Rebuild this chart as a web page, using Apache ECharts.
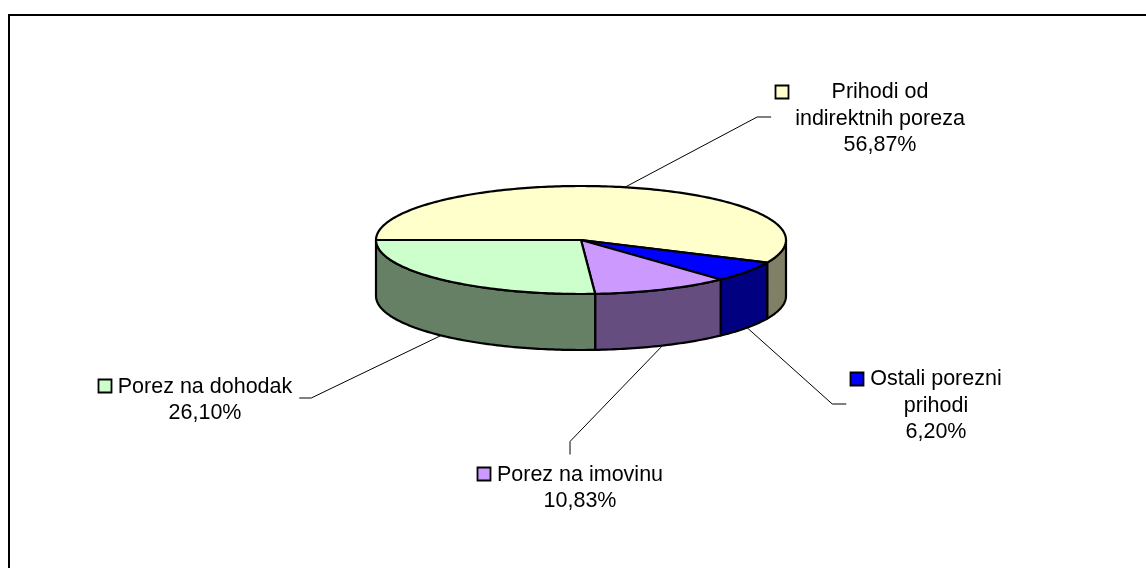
<!DOCTYPE html>
<html lang="hr">
<head>
<meta charset="UTF-8">
<title>Struktura poreznih prihoda</title>
<script src="https://cdn.jsdelivr.net/npm/echarts@6/dist/echarts.min.js"></script>
<style>
    html, body { margin: 0; padding: 0; background: #fff; }
    #main { width: 1146px; height: 568px; }
</style>
</head>
<body>
<div id="main"></div>
<script>
    // slices go clockwise, starting at 9 o'clock (like the Excel original)
    var names = ['Prihodi od\nindirektnih poreza', 'Ostali porezni\nprihodi', 'Porez na imovinu', 'Porez na dohodak'];
    var values = [56.87, 6.20, 10.83, 26.10];
    var topColors = ['#FFFFCC', '#0000FF', '#CC99FF', '#CCFFCC'];
    var sideColors = ['#808066', '#000080', '#664D80', '#668066'];

    // label block centres and which edge the leader line goes to
    var labelPos = [[880, 117], [936, 404], [580, 486], [205, 398]];
    var labelSide = ['left', 'left', 'top', 'right'];

    var CX = 581, CY = 240, RX = 205, RY = 54, DEPTH = 56, START = 270;
    var FONT = '21.5px "Liberation Sans", Arial, sans-serif';
    var LINE_H = 26.5;

    var total = 0;
    values.forEach(function (v) { total += v; });
    var starts = [];
    var acc = START;
    values.forEach(function (v) {
        starts.push(acc);
        acc += v / total * 360;
    });

    var ctx = document.createElement('canvas').getContext('2d');
    ctx.font = FONT;
    function textW(s) { return ctx.measureText(s).width; }

    function pt(deg, dy) {
        var r = deg * Math.PI / 180;
        return [CX + RX * Math.sin(r), CY - RY * Math.cos(r) + (dy || 0)];
    }

    function arc(a1, a2, dy) {
        var pts = [];
        var n = Math.max(2, Math.ceil((a2 - a1) / 1));
        for (var i = 0; i <= n; i++) {
            pts.push(pt(a1 + (a2 - a1) * i / n, dy));
        }
        return pts;
    }

    // parts of [a1,a2] that face the viewer (lower half of ellipse)
    function frontParts(a1, a2) {
        var out = [];
        [[90, 270], [450, 630]].forEach(function (f) {
            var s = Math.max(a1, f[0]), e = Math.min(a2, f[1]);
            if (e > s) out.push([s, e]);
        });
        return out;
    }

    function pct(v) {
        return (v / total * 100).toFixed(2).replace('.', ',') + '%';
    }

    function renderItem(params, api) {
        var i = params.dataIndex;
        var v = api.value(0);
        var a1 = starts[i];
        var a2 = a1 + v / total * 360;
        var children = [];

        frontParts(a1, a2).forEach(function (p) {
            var pts = arc(p[0], p[1], 0).concat(arc(p[0], p[1], DEPTH).reverse());
            children.push({
                type: 'polygon',
                z2: 1,
                shape: { points: pts },
                style: { fill: sideColors[i], stroke: '#000', lineWidth: 2.2, lineJoin: 'round' }
            });
        });

        children.push({
            type: 'polygon',
            z2: 5,
            shape: { points: [[CX, CY]].concat(arc(a1, a2, 0)) },
            style: { fill: topColors[i], stroke: '#000', lineWidth: 2.2, lineJoin: 'round' }
        });

        // label
        var lines = names[i].split('\n').concat([pct(v)]);
        var maxW = 0;
        lines.forEach(function (l) { maxW = Math.max(maxW, textW(l)); });
        var lx = labelPos[i][0], ly = labelPos[i][1];
        var blockH = lines.length * LINE_H;
        var keyLeft = lx - maxW / 2 - 6 - 14;
        var firstY = ly - blockH / 2 + LINE_H / 2;

        children.push({
            type: 'text',
            z2: 20,
            x: lx,
            y: ly + 2,
            style: {
                text: lines.join('\n'),
                font: FONT,
                fill: '#000',
                align: 'center',
                verticalAlign: 'middle',
                lineHeight: LINE_H
            }
        });
        children.push({
            type: 'rect',
            z2: 20,
            shape: { x: Math.round(keyLeft) + 0.5, y: Math.round(firstY - 6) + 0.5, width: 13, height: 13 },
            style: { fill: topColors[i], stroke: '#000', lineWidth: 1.8 }
        });

        // leader line
        var mid = (a1 + a2) / 2;
        var front = Math.cos(mid * Math.PI / 180) < 0;
        var anchor = pt(mid, front ? DEPTH : 0);
        var end, elbow;
        if (labelSide[i] === 'left') {
            end = [keyLeft - 4, ly];
            elbow = [end[0] - 14, ly];
        } else if (labelSide[i] === 'right') {
            end = [lx + maxW / 2 + 7, ly];
            elbow = [end[0] + 12, ly];
        } else {
            end = [(keyLeft + lx + maxW / 2) / 2, ly - blockH / 2 - 5];
            elbow = [end[0], end[1] - 13];
        }
        children.push({
            type: 'polyline',
            z2: 20,
            shape: { points: [anchor, elbow, end] },
            style: { stroke: '#000', lineWidth: 1, fill: null }
        });

        return { type: 'group', children: children };
    }

    var myChart = echarts.init(document.getElementById('main'));
    var option = {
        backgroundColor: '#fff',
        animation: false,
        graphic: [{
            type: 'rect',
            shape: { x: 9, y: 15, width: 1150, height: 600 },
            style: { fill: null, stroke: '#000', lineWidth: 2 }
        }],
        series: [{
            type: 'custom',
            coordinateSystem: 'none',
            renderItem: renderItem,
            data: values
        }]
    };
    myChart.setOption(option);
</script>
</body>
</html>
